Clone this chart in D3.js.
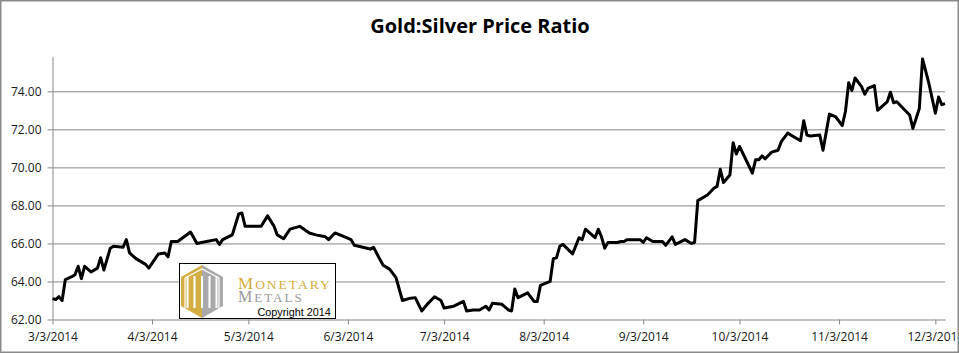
<!DOCTYPE html>
<html>
<head>
<meta charset="utf-8">
<script src="https://cdn.jsdelivr.net/npm/d3@7"></script>
<style>
    body { margin: 0; background: #fff; }
    svg { display: block; }
    .tick-label { font-family: "Open Sans", sans-serif; font-size: 12px; fill: #1a1a1a; }
    .graph-heading { font-family: "Open Sans", sans-serif; font-size: 20px; font-weight: bold; fill: #000; }
</style>
</head>
<body>
<svg></svg>
<script>
// Data
let dates = [
    "2014-03-03","2014-03-04","2014-03-05","2014-03-06","2014-03-07","2014-03-09","2014-03-10","2014-03-11",
    "2014-03-12","2014-03-13","2014-03-15","2014-03-17","2014-03-18","2014-03-19","2014-03-21","2014-03-22",
    "2014-03-25","2014-03-26","2014-03-27","2014-03-29","2014-04-01","2014-04-02","2014-04-03","2014-04-05",
    "2014-04-07","2014-04-08","2014-04-09","2014-04-11","2014-04-13","2014-04-15","2014-04-17","2014-04-20",
    "2014-04-23","2014-04-24","2014-04-25","2014-04-28","2014-04-30","2014-05-01","2014-05-02","2014-05-07",
    "2014-05-09","2014-05-11","2014-05-12","2014-05-14","2014-05-16","2014-05-19","2014-05-22","2014-05-24",
    "2014-05-27","2014-05-28","2014-05-30","2014-06-02","2014-06-04","2014-06-05","2014-06-09","2014-06-10",
    "2014-06-11","2014-06-13","2014-06-14","2014-06-16","2014-06-18","2014-06-20","2014-06-22","2014-06-24",
    "2014-06-26","2014-06-28","2014-06-30","2014-07-02","2014-07-03","2014-07-06","2014-07-09","2014-07-10",
    "2014-07-12","2014-07-14","2014-07-16","2014-07-17","2014-07-18","2014-07-21","2014-07-23","2014-07-24",
    "2014-07-25","2014-07-26","2014-07-29","2014-07-31","2014-08-01","2014-08-02","2014-08-05","2014-08-06",
    "2014-08-07","2014-08-08","2014-08-09","2014-08-12","2014-08-14","2014-08-15","2014-08-16","2014-08-19",
    "2014-08-20","2014-08-21","2014-08-22","2014-08-23","2014-08-26","2014-08-27","2014-08-28","2014-08-29",
    "2014-09-02","2014-09-03","2014-09-04","2014-09-06","2014-09-09","2014-09-10","2014-09-12","2014-09-13",
    "2014-09-16","2014-09-18","2014-09-19","2014-09-20","2014-09-23","2014-09-25","2014-09-26","2014-09-27",
    "2014-09-28","2014-09-30","2014-10-01","2014-10-02","2014-10-03","2014-10-05","2014-10-07","2014-10-08",
    "2014-10-09","2014-10-10","2014-10-11","2014-10-13","2014-10-15","2014-10-16","2014-10-18","2014-10-20",
    "2014-10-22","2014-10-23","2014-10-24","2014-10-25","2014-10-28","2014-10-29","2014-10-31","2014-11-02",
    "2014-11-04","2014-11-05","2014-11-06","2014-11-07","2014-11-08","2014-11-10","2014-11-11","2014-11-12",
    "2014-11-14","2014-11-15","2014-11-17","2014-11-18","2014-11-19","2014-11-20","2014-11-21","2014-11-23",
    "2014-11-25","2014-11-26","2014-11-28","2014-11-29","2014-12-01","2014-12-03","2014-12-04","2014-12-05",
    "2014-12-06"
]

let ratio = [
    63.10, 63.05, 63.20, 63.00, 64.10, 64.25, 64.35, 64.80,
    64.15, 64.80, 64.50, 64.70, 65.25, 64.60, 65.75, 65.85,
    65.80, 66.20, 65.50, 65.20, 64.90, 64.70, 64.95, 65.45,
    65.50, 65.30, 66.10, 66.10, 66.35, 66.60, 66.00, 66.10,
    66.20, 65.95, 66.20, 66.45, 67.55, 67.60, 66.90, 66.90,
    67.45, 66.90, 66.45, 66.25, 66.75, 66.90, 66.55, 66.45,
    66.35, 66.20, 66.55, 66.35, 66.20, 65.90, 65.75, 65.70,
    65.80, 65.15, 64.85, 64.65, 64.20, 63.00, 63.10, 63.15,
    62.45, 62.85, 63.20, 63.00, 62.60, 62.70, 62.95, 62.45,
    62.50, 62.50, 62.70, 62.50, 62.85, 62.80, 62.50, 62.45,
    63.60, 63.15, 63.40, 62.95, 62.95, 63.80, 64.00, 65.20,
    65.25, 65.85, 65.95, 65.45, 66.30, 66.20, 66.75, 66.30,
    66.75, 66.35, 65.75, 66.05, 66.05, 66.10, 66.10, 66.20,
    66.20, 66.05, 66.30, 66.10, 66.10, 65.90, 66.35, 65.95,
    66.20, 66.00, 66.05, 68.25, 68.55, 68.90, 69.00, 69.90,
    69.20, 69.60, 71.30, 70.70, 71.10, 70.40, 69.70, 70.40,
    70.40, 70.60, 70.45, 70.80, 70.90, 71.35, 71.80, 71.60,
    71.40, 72.45, 71.70, 71.65, 71.70, 70.90, 72.80, 72.65,
    72.20, 72.95, 74.45, 74.05, 74.70, 74.25, 73.85, 74.15,
    74.30, 73.00, 73.30, 73.45, 73.95, 73.40, 73.45, 73.10,
    72.75, 72.05, 73.10, 75.70, 74.40, 72.85, 73.70, 73.30,
    73.35
]

let yTicks = [62, 64, 66, 68, 70, 72, 74]
let xTicks = ["2014-03-03","2014-04-03","2014-05-03","2014-06-03","2014-07-03","2014-08-03","2014-09-03","2014-10-03","2014-11-03","2014-12-03"]
let xDomain = ["2014-03-03", "2014-12-06"]
let yDomain = [62, 75.82]

let parse = d3.timeParse("%Y-%m-%d")
let dataset = dates.map((d, i) => ({ date: parse(d), value: ratio[i] }))

// Graph Dimensions
let width = 959
let height = 353
let plot = { left: 52.5, right: 945, top: 56.7, bottom: 319.5 }

// Scale
let scale = {
    x: d3.scaleUtc().domain(xDomain.map(parse)).range([plot.left, plot.right]),
    y: d3.scaleLinear().domain(yDomain).range([plot.bottom, plot.top])
}
scale.x = d3.scaleTime().domain(xDomain.map(parse)).range([plot.left, plot.right])

let svg = d3.select('svg')
    .attr('width', width)
    .attr('height', height)

svg.append('rect')
    .attr('width', width)
    .attr('height', height)
    .attr('fill', '#fff')

// Grid Y
let gridY = svg.append('g')
    .attr('transform', `translate(${plot.left},0)`)
    .call(d3.axisLeft(scale.y)
        .tickValues(yTicks.slice(1))
        .tickFormat('')
        .tickSize(-(plot.right - plot.left)))
gridY.select('.domain').remove()
gridY.selectAll('line').attr('stroke', '#878787').attr('stroke-width', 1)

// Y axis
let axisY = svg.append('g')
    .attr('transform', `translate(${plot.left},0)`)
    .call(d3.axisLeft(scale.y)
        .tickValues(yTicks)
        .tickFormat(d3.format('.2f'))
        .tickSize(5)
        .tickSizeOuter(0))
axisY.select('.domain').attr('stroke', '#878787')
axisY.selectAll('line').attr('stroke', '#878787')
axisY.selectAll('text')
    .attr('class', 'tick-label')
    .attr('x', -11)
    .attr('dy', '0.36em')
    .attr('font-family', null)
    .attr('font-size', null)

// X axis
let axisX = svg.append('g')
    .attr('transform', `translate(0,${plot.bottom})`)
    .call(d3.axisBottom(scale.x)
        .tickValues(xTicks.map(parse))
        .tickFormat(d3.timeFormat('%-m/%-d/%Y'))
        .tickSize(5)
        .tickSizeOuter(0))
axisX.select('.domain').attr('stroke', '#878787')
axisX.selectAll('line').attr('stroke', '#878787')
axisX.selectAll('text')
    .attr('class', 'tick-label')
    .attr('y', 17)
    .attr('dy', '0.36em')
    .attr('font-family', null)
    .attr('font-size', null)

// Ratio line
let line = d3.line()
    .x(d => scale.x(d.date))
    .y(d => scale.y(d.value))

svg.append('path')
    .datum(dataset)
    .attr('d', line)
    .style('fill', 'none')
    .style('stroke', '#000')
    .style('stroke-width', 3)
    .style('stroke-linejoin', 'round')

// Logo
let logo = svg.append('g')
logo.append('rect')
    .attr('x', 179.5).attr('y', 263.5)
    .attr('width', 156).attr('height', 55)
    .attr('fill', '#fff')
    .attr('stroke', '#000')
    .attr('stroke-width', 1)
logo.append('polygon')
    .attr('points', '181,277 202,265 202,318 181,306')
    .attr('fill', '#d4ae42')
logo.append('polygon')
    .attr('points', '202,265 223,277 223,306 202,318')
    .attr('fill', '#a9a9a9')
let stripes = [186.5, 193.5, 201, 208.5, 215.5]
stripes.forEach(sx => {
    logo.append('rect')
        .attr('x', sx).attr('y', 276)
        .attr('width', 2).attr('height', 32)
        .attr('fill', '#fff')
})
logo.append('polyline')
    .attr('points', '185,309 185,278 202,269 219,278 219,309')
    .attr('fill', 'none')
    .attr('stroke', '#fff')
    .attr('stroke-width', 1.2)

let serif = '"Liberation Serif", "DejaVu Serif", serif'
let monetary = logo.append('text')
    .attr('x', 238).attr('y', 289)
    .attr('font-family', serif)
    .attr('letter-spacing', 2)
    .attr('fill', '#d6ad3c')
monetary.append('tspan').attr('font-size', 17).text('M')
monetary.append('tspan').attr('font-size', 13.5).text('ONETARY')

let metals = logo.append('text')
    .attr('x', 238).attr('y', 302.3)
    .attr('font-family', serif)
    .attr('letter-spacing', 2)
    .attr('fill', '#9a9a9a')
metals.append('tspan').attr('font-size', 16).text('M')
metals.append('tspan').attr('font-size', 13).text('ETALS')

logo.append('text')
    .attr('x', 257.5).attr('y', 315.7)
    .attr('font-family', '"Liberation Sans", Arial, sans-serif')
    .attr('font-size', 10.8)
    .attr('fill', '#000')
    .text('Copyright 2014')

// Title
svg.append('text')
    .attr('x', 480)
    .attr('y', 33.3)
    .attr('text-anchor', 'middle')
    .attr('class', 'graph-heading')
    .text('Gold:Silver Price Ratio')

// Chart border
svg.append('rect')
    .attr('x', 0.75).attr('y', 0.75)
    .attr('width', 957.5).attr('height', 351.5)
    .attr('fill', 'none')
    .attr('stroke', '#8a8a8a')
    .attr('stroke-width', 1.5)
</script>
</body>
</html>
